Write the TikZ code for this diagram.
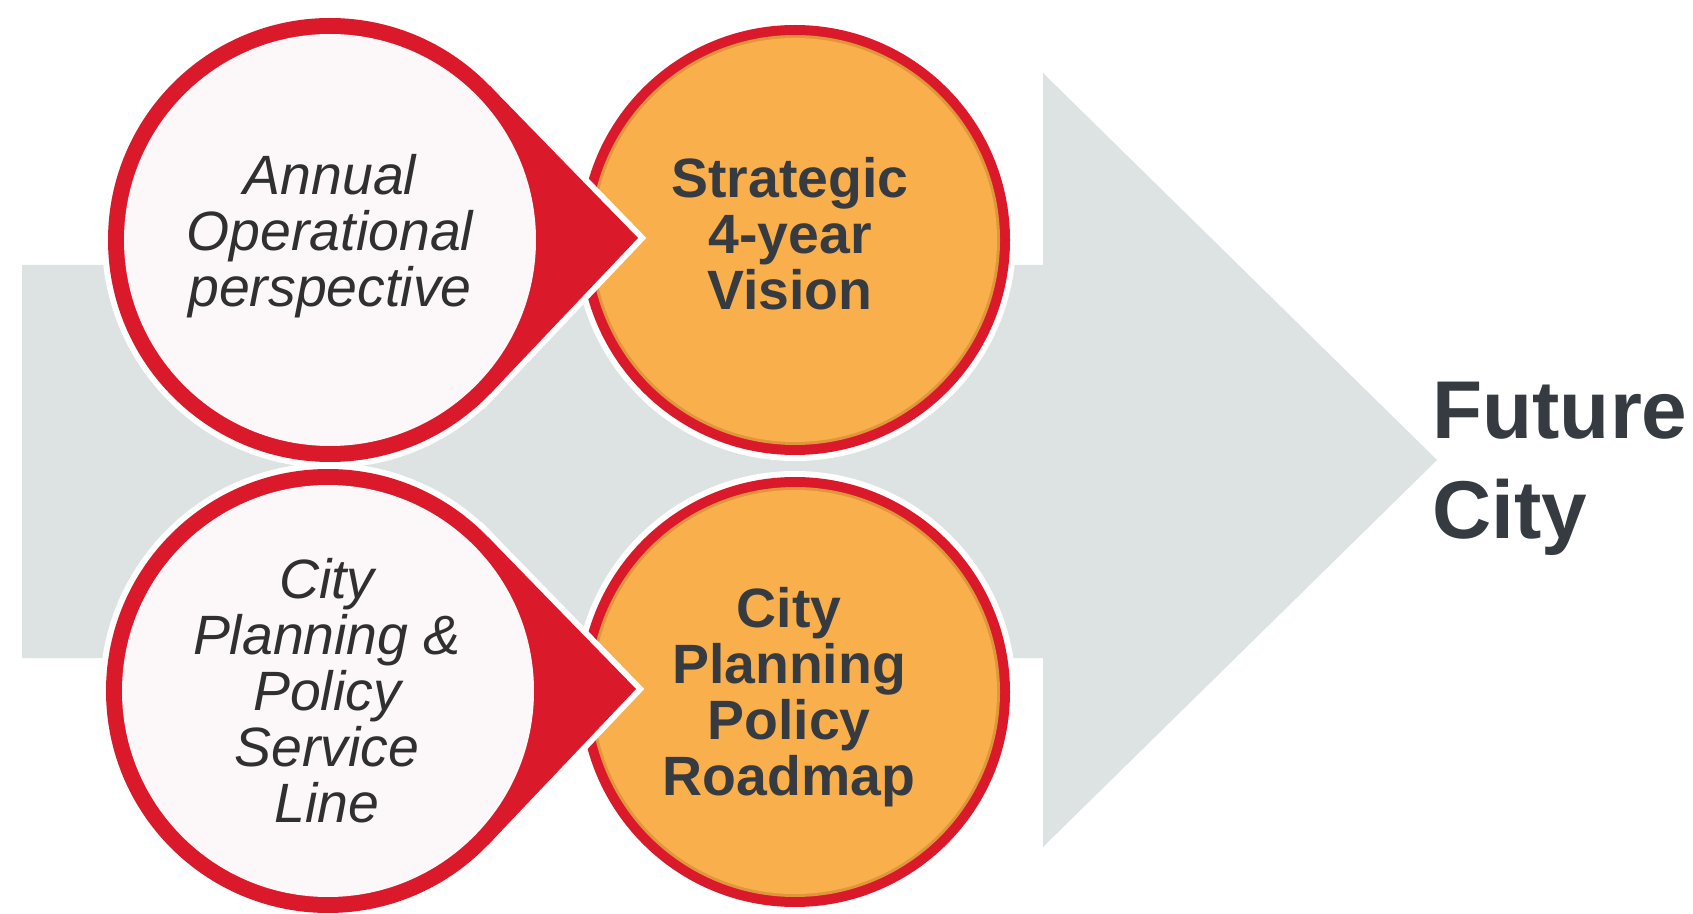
\documentclass[tikz,border=0pt]{standalone}
\usepackage{fontspec}
\setmainfont{Liberation Sans}
\definecolor{ringred}{HTML}{DA1A2B}
\definecolor{orfill}{HTML}{FAAF4D}
\definecolor{oredge}{HTML}{E0963A}
\definecolor{arrowgray}{HTML}{DDE3E3}
\definecolor{itxt}{HTML}{303030}
\definecolor{btxt}{HTML}{363B41}
\definecolor{wfill}{HTML}{FCF7F9}
\tikzset{
  itext/.style={font=\fontsize{27.7}{28}\selectfont\itshape, text=itxt, align=center, inner sep=0pt},
  btext/.style={font=\fontsize{27.7}{28}\selectfont\bfseries, text=btxt, align=center, inner sep=0pt},
  bigtext/.style={font=\fontsize{41}{50}\selectfont\bfseries, text=btxt, align=left, inner sep=0pt},
  halo/.style={white, line width=6pt, line join=miter},
}
\begin{document}
\begin{tikzpicture}[x=0.5pt,y=-0.5pt]
\useasboundingbox (0,0) rectangle (1693,914);
\fill[white] (0,0) rectangle (1693,914);
% big arrow
\fill[arrowgray] (22,265) -- (1043,265) -- (1043,73) -- (1437,460) -- (1043,847) -- (1043,658) -- (22,658) -- cycle;
% orange circles
\foreach \cy in {240,692}{
  \fill[white] (795,\cy) circle[radius=221];
  \fill[ringred] (795,\cy) circle[radius=215];
  \fill[oredge] (795,\cy) circle[radius=205];
  \fill[orfill] (795,\cy) circle[radius=202];
}
% white bubbles with pointers
\foreach \cx/\cy in {330/240,328/691}{
  \filldraw[halo] (\cx,\cy) circle[radius=222];
  \filldraw[halo] ({\cx+160},{\cy-154}) -- ({\cx+308},{\cy-2}) -- ({\cx+160},{\cy+154}) -- cycle;
  \fill[ringred] (\cx,\cy) circle[radius=222];
  \fill[ringred] ({\cx+160},{\cy-154}) -- ({\cx+308},{\cy-2}) -- ({\cx+160},{\cy+154}) -- (\cx,\cy) -- cycle;
  \fill[wfill] (\cx,\cy) circle[radius=206];
}
% texts
\node[itext] (aop) at (330,236) {Annual\\Operational\\perspective};
\node[btext] (sv) at (790,234) {Strategic\\4-year\\Vision};
\node[itext] (cpp) at (327,691) {City\\Planning \&\\Policy\\Service\\Line};
\node[btext] (cpr) at (789,697) {City\\Planning\\Policy\\Roadmap};
\node[bigtext, anchor=west] (fc) at (1432,469) {Future\\City};
\end{tikzpicture}
\end{document}
